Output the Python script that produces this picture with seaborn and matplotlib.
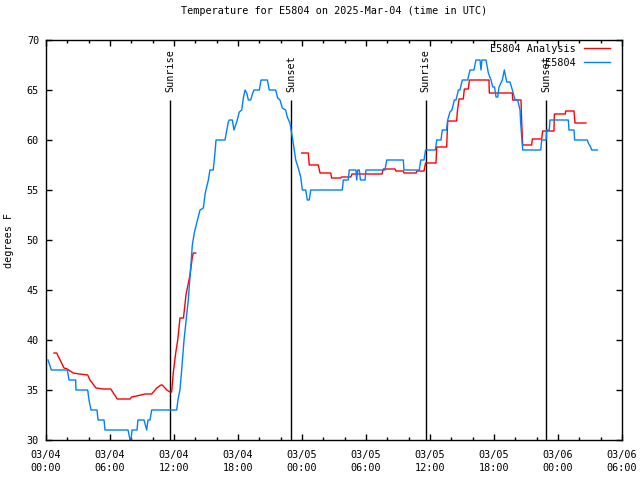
import numpy as np
import pandas as pd
import seaborn as sns
import matplotlib.pyplot as plt

# hours since 03/04 00:00 UTC, temperature in F
obs_hours = [0.19, 0.50, 2.00, 2.16, 2.78, 2.81, 3.91, 4.03, 4.22, 4.78, 4.88, 5.44, 5.53, 7.69, 7.88,
             7.97, 8.06, 8.53, 8.62, 9.19, 9.44, 9.56, 9.75, 9.91, 12.25, 12.37, 12.56, 12.72, 12.94,
             13.34, 13.72, 13.90, 14.13, 14.44, 14.75, 14.93, 15.22, 15.37, 15.68, 15.84, 15.94, 16.78,
             17.09, 17.18, 17.47, 17.62, 17.88, 18.12, 18.35, 18.50, 18.66, 18.82, 18.97, 19.19, 19.38,
             19.50, 20.00, 20.16, 20.75, 20.93, 21.53, 21.72, 21.94, 22.15, 22.47, 22.62, 22.87, 23.03,
             23.18, 23.41, 23.65, 23.88, 24.03, 24.35, 24.50, 24.68, 24.82, 27.78, 27.87, 28.34, 28.43,
             29.06, 29.13, 29.22, 29.37, 29.48, 29.91, 30.00, 31.78, 31.94, 33.50, 33.56, 35.00, 35.13,
             35.44, 35.58, 36.50, 36.63, 37.03, 37.15, 37.55, 37.66, 37.87, 38.06, 38.28, 38.44, 38.66,
             38.81, 39.03, 39.53, 39.75, 40.12, 40.31, 40.69, 40.78, 40.87, 41.25, 41.47, 41.72, 41.88,
             42.05, 42.19, 42.35, 42.47, 42.78, 42.97, 43.19, 43.50, 43.72, 43.97, 44.22, 44.44, 44.50,
             44.69, 46.38, 46.47, 46.88, 46.94, 47.18, 47.25, 48.97, 49.03, 49.50, 49.56, 50.75, 50.84,
             51.06, 51.16, 51.69]
obs_temps = [38, 37, 37, 36, 36, 35, 35, 34, 33, 33, 32, 32, 31, 31, 30,
             30, 31, 31, 32, 32, 31, 32, 32, 33, 33, 34, 35, 37, 40,
             44, 49.5, 50.7, 51.7, 53, 53.2, 54.7, 56, 57, 57, 58.7, 60, 60,
             61.8, 62, 62, 61, 61.8, 62.8, 63, 64.2, 65, 64.7, 64, 64, 64.7,
             65, 65, 66, 66, 65, 65, 64.2, 64, 63.2, 63, 62.3, 61.7, 60.7,
             59.7, 58, 57.2, 56.3, 55, 55, 54, 54, 55, 55, 56, 56, 57,
             57, 56, 57, 57, 56, 56, 57, 57, 58, 58, 57, 57, 58,
             58, 59, 59, 60, 60, 61, 61, 62, 62.8, 63, 64, 64, 65,
             65, 66, 66, 67, 67, 68, 68, 67, 68, 68, 66.7, 66, 65.3,
             65.3, 64.3, 64.3, 65.3, 66, 67, 65.8, 65.8, 65, 64, 64, 63, 61.7,
             59, 59, 60, 60, 61, 61, 62, 62, 61, 61, 60, 60, 59.7,
             59.3, 59, 59]

ana_hours_1 = [0.75, 1.00, 1.69, 2.00, 2.25, 2.56, 3.12, 3.91, 4.12, 4.69, 5.37, 6.07, 6.68, 7.87,
               8.03, 8.50, 9.28, 9.91, 10.38, 10.78, 10.90, 11.32, 11.62, 11.78, 11.93, 12.16, 12.35,
               12.56, 12.89, 13.12, 13.31, 13.50, 13.72, 13.81, 14.03]
ana_temps_1 = [38.7, 38.7, 37.2, 37.1, 36.9, 36.7, 36.6, 36.5, 36.0, 35.2, 35.1, 35.1, 34.1, 34.1,
               34.3, 34.4, 34.6, 34.6, 35.2, 35.5, 35.5, 35.0, 34.8, 34.8, 36.7, 38.7, 40.0,
               42.2, 42.2, 44.5, 45.5, 46.5, 48.3, 48.7, 48.7]
ana_hours_2 = [23.97, 24.59, 24.68, 25.53, 25.69, 26.69, 26.78, 27.62, 27.72, 28.57, 28.69, 31.50,
               31.62, 32.72, 32.81, 33.50, 33.56, 34.69, 34.78, 35.44, 35.58, 36.56, 36.63, 37.56,
               37.66, 38.50, 38.56, 38.72, 39.12, 39.22, 39.59, 39.69, 41.53, 41.56, 43.72, 43.75,
               44.53, 44.60, 44.69, 45.53, 45.59, 46.47, 46.56, 47.62, 47.66, 48.69, 48.72, 49.50,
               49.59, 50.62]
ana_temps_2 = [58.7, 58.7, 57.5, 57.5, 56.7, 56.7, 56.2, 56.2, 56.3, 56.3, 56.6, 56.6,
               57.1, 57.1, 56.9, 56.9, 56.7, 56.7, 56.9, 56.9, 57.7, 57.7, 59.3, 59.3,
               61.9, 61.9, 62.8, 64.1, 64.1, 65.1, 65.1, 66.0, 66.0, 64.7, 64.7, 64.0,
               64.0, 61.7, 59.5, 59.5, 60.1, 60.1, 60.9, 60.9, 62.6, 62.6, 62.9, 62.9,
               61.7, 61.7]

sun_hours = [11.62, 22.97, 35.58, 46.92]
sun_labels = ["Sunrise", "Sunset", "Sunrise", "Sunset"]
sun_top = 64

xtick_hours = [0, 6, 12, 18, 24, 30, 36, 42, 48, 54]
xtick_labels = ["03/04\n00:00", "03/04\n06:00", "03/04\n12:00", "03/04\n18:00", "03/05\n00:00",
                "03/05\n06:00", "03/05\n12:00", "03/05\n18:00", "03/06\n00:00", "03/06\n06:00"]

RED = "#ff0000"
BLUE = "#0080ff"

plt.rcParams["font.family"] = ["DejaVu Sans Mono"]
plt.rcParams["font.size"] = 7.25

obs = pd.DataFrame({"hour": obs_hours, "temp": obs_temps})
ana1 = pd.DataFrame({"hour": ana_hours_1, "temp": ana_temps_1})
ana2 = pd.DataFrame({"hour": ana_hours_2, "temp": ana_temps_2})

fig = plt.figure(figsize=(6.4, 4.8), dpi=100)
ax = fig.add_axes([46 / 640, 40 / 480, 576 / 640, 400 / 480])

# Sunrise / sunset markers
for h, lab in zip(sun_hours, sun_labels):
    ax.vlines(h, 30, sun_top, color="black", lw=1)
    ax.text(h, sun_top + 0.8, lab, rotation=90, ha="center", va="bottom")

# analysis has a gap, so draw the two pieces separately
sns.lineplot(ana1, x="hour", y="temp", estimator=None, sort=False,
             color=RED, lw=1, ax=ax, label="E5804 Analysis")
sns.lineplot(ana2, x="hour", y="temp", estimator=None, sort=False,
             color=RED, lw=1, ax=ax, label="_nolegend_")
sns.lineplot(obs, x="hour", y="temp", estimator=None, sort=False,
             color=BLUE, lw=1, ax=ax, label="E5804".rjust(14))

ax.set_xlim(0, 54)
ax.set_ylim(30, 70)
ax.set_xticks(xtick_hours)
ax.set_xticklabels(xtick_labels, linespacing=1.45)
ax.set_xticks(np.arange(0, 55, 2), minor=True)
ax.set_yticks(np.arange(30, 71, 5))
ax.tick_params(which="both", direction="in", top=True, right=True, width=1)
ax.tick_params(which="major", length=4.5)
ax.tick_params(which="minor", length=2.5)
ax.tick_params(axis="x", pad=7)
ax.tick_params(axis="y", pad=5)
for s in ax.spines.values():
    s.set_linewidth(1)

ax.set_xlabel(None)
ax.set_ylabel("degrees F")
ax.yaxis.set_label_coords(-32 / 576, 0.5)
ax.set_title("Temperature for E5804 on 2025-Mar-04 (time in UTC)", fontsize=7.25, pad=19)

ax.legend(loc="upper right", bbox_to_anchor=(564 / 576, 0.99), frameon=False,
          markerfirst=False, handlelength=2.6, handletextpad=0.8, borderpad=0,
          borderaxespad=0, labelspacing=0.35)

fig.savefig("out.png", dpi=100)
